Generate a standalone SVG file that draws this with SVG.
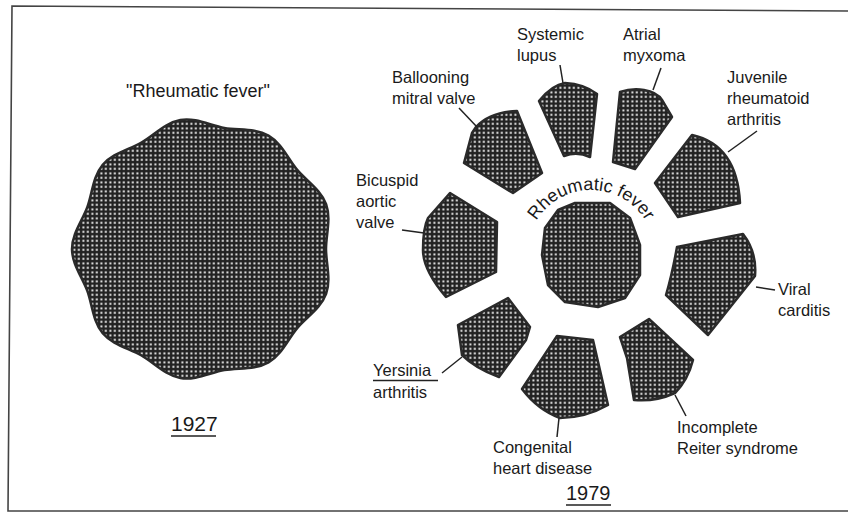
<svg xmlns="http://www.w3.org/2000/svg" width="848" height="513" viewBox="0 0 848 513">
<defs>
<pattern id="hatch" width="4.5" height="4.5" patternUnits="userSpaceOnUse">
<rect width="4.5" height="4.5" fill="#222222"/>
<rect x="1.4" y="1.4" width="1.9" height="1.9" fill="#ffffff"/>
</pattern>
<path id="arc" d="M533.5,226 A64,64 0 0 1 648.5,226"/>
</defs>
<style>
.shape{fill:url(#hatch);stroke:#2a2a2a;stroke-width:2.5;stroke-linejoin:round}
.lbl{font-family:"Liberation Sans",Arial,sans-serif;font-size:16.5px;fill:#1a1a1a}
.big{font-family:"Liberation Sans",Arial,sans-serif;font-size:20px;fill:#1a1a1a}
.lead{stroke:#222;stroke-width:1.5;fill:none}
.uline{stroke:#222;stroke-width:1.6}
.frame{stroke:#444;stroke-width:1.6;fill:none}
</style>
<rect width="848" height="513" fill="#ffffff"/>
<path class="frame" d="M848,11 L12,6 L8,511 L848,511"/>

<g id="left-1927">
<text class="lbl" x="198" y="97" text-anchor="middle" style="font-size:18px">"Rheumatic fever"</text>
<path class="shape" d="M326,249 C326,263.35 331.3,279.4 326.1,293.8 C320.9,308.2 306.4,317.1 297.2,328.1 C288,339.1 281.75,354.75 268.5,362.4 C255.25,370.05 238.5,367.6 224.4,370.1 C210.3,372.6 195.4,380.7 180.3,378 C165.2,375.3 153.9,362.7 141.5,355.5 C129.1,348.3 112.5,344.9 102.7,333.2 C92.9,321.5 92.3,304.6 87.4,291.1 C82.5,277.6 72,264.3 72,249 C72,233.7 82.5,220.4 87.4,206.9 C92.3,193.4 92.9,176.5 102.7,164.8 C112.5,153.1 129.1,149.7 141.5,142.5 C153.9,135.3 165.2,122.7 180.3,120 C195.4,117.3 210.3,125.4 224.4,127.9 C238.5,130.4 255.25,127.95 268.5,135.6 C281.75,143.25 288,158.9 297.2,169.9 C306.4,180.9 320.9,189.8 326.1,204.2 C331.3,218.6 326,234.65 326,249 Z"/>
<text class="big" x="171" y="431" style="font-size:21px">1927</text>
<line class="uline" x1="171" y1="436" x2="216" y2="436"/>
</g>

<g id="center">
<path class="shape" d="M575,203 L610,203 L630,218 L640,245 L640,275 L625,298 L598,307 L565,302 L548,285 L542,255 L545,228 L558,210 Z"/>
<text class="lbl" style="font-size:18px"><textPath href="#arc" startOffset="50%" text-anchor="middle">Rheumatic fever</textPath></text>
</g>

<g id="ballooning">
<path class="shape" d="M476,127 Q490,112 517,111 L542,173 L513,193 L464,163 L472,133 Z"/>
<text class="lbl" x="392" y="83">Ballooning</text>
<text class="lbl" x="392" y="104">mitral valve</text>
</g>
<g id="systemic-lupus">
<path class="shape" d="M539,101 Q552,85 565,83 Q584,84 597,94 L590,157 Q577,151 564,156 Z"/>
<text class="lbl" x="517" y="40">Systemic</text>
<text class="lbl" x="517" y="61">lupus</text>
</g>
<g id="atrial-myxoma">
<path class="shape" d="M620,92 C635,87 655,89 662,100 L672,117 L635,169 L613,162 Z"/>
<text class="lbl" x="623" y="40">Atrial</text>
<text class="lbl" x="623" y="61">myxoma</text>
</g>
<g id="juvenile">
<path class="shape" d="M692,135 Q737,145 740,203 L678,217 L655,183 Z"/>
<text class="lbl" x="727" y="83">Juvenile</text>
<text class="lbl" x="727" y="104">rheumatoid</text>
<text class="lbl" x="727" y="125">arthritis</text>
</g>
<g id="bicuspid">
<path class="shape" d="M450,193 L497,222 L496,272 L446,297 Q423,270 423,250 Q423,228 428,218 Z"/>
<text class="lbl" x="356" y="186">Bicuspid</text>
<text class="lbl" x="356" y="207">aortic</text>
<text class="lbl" x="356" y="228">valve</text>
</g>
<g id="viral-carditis">
<path class="shape" d="M677,247 L743,234 Q757,252 755,276 L708,335 L666,295 Q672,275 677,247 Z"/>
<text class="lbl" x="778" y="295">Viral</text>
<text class="lbl" x="778" y="316">carditis</text>
</g>
<g id="yersinia">
<path class="shape" d="M458,325 L508,298 L530,327 L526,340 L499,377 Q475,368 462,355 Z"/>
<text class="lbl" x="373" y="376">Yersinia</text>
<line class="uline" x1="373" y1="380.5" x2="438" y2="380.5"/>
<text class="lbl" x="373" y="398">arthritis</text>
</g>
<g id="congenital">
<path class="shape" d="M557,336 L593,340 L608,405 Q585,418 560,418 Q538,410 522,389 Z"/>
<text class="lbl" x="493" y="453">Congenital</text>
<text class="lbl" x="493" y="474">heart disease</text>
</g>
<g id="reiter">
<path class="shape" d="M649,319 L693,360 Q688,380 675,393 Q655,402 634,400 L627,358 L620,337 Z"/>
<text class="lbl" x="677" y="433">Incomplete</text>
<text class="lbl" x="677" y="454">Reiter syndrome</text>
</g>
<g id="year-1979">
<text class="big" x="566" y="500">1979</text>
<line class="uline" x1="566" y1="505" x2="611" y2="505"/>
</g>

<g id="connectors">
<line class="lead" x1="459" y1="108" x2="477" y2="127"/>
<line class="lead" x1="560" y1="65" x2="563" y2="83"/>
<line class="lead" x1="661" y1="68" x2="653" y2="90"/>
<line class="lead" x1="757" y1="131" x2="728" y2="152"/>
<line class="lead" x1="402" y1="230" x2="424" y2="233"/>
<line class="lead" x1="442" y1="373" x2="462" y2="357"/>
<line class="lead" x1="559" y1="418" x2="557" y2="437"/>
<line class="lead" x1="756" y1="287" x2="775" y2="290"/>
<line class="lead" x1="675" y1="395" x2="686" y2="416"/>
</g>
</svg>
